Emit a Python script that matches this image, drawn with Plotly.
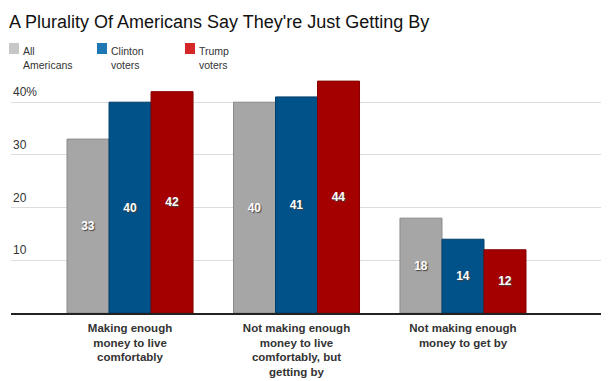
import plotly.graph_objects as go

categories = ["Making enough<br>money to live<br>comfortably",
              "Not making enough<br>money to live<br>comfortably, but<br>getting by",
              "Not making enough<br>money to get by"]
series_names = ["All<br>Americans", "Clinton<br>voters", "Trump<br>voters"]
all_americans = [33, 40, 18]
clinton_voters = [40, 41, 14]
trump_voters = [42, 44, 12]
y_ticks = [10, 20, 30, 40]
y_tick_labels = ["10", "20", "30", "40%"]

bar_colors = ["#a6a6a6", "#02528a", "#a50000"]
bar_lines = ["#8a8a8a", "#003e6b", "#850000"]
legend_colors = ["#c7c7c7", "#1f77b4", "#d62728"]

# page body has an 8px margin; work in window pixels and convert
O = 8
WW, WH = 616, 381
W, H = WW - O, WH - O
PL, PR, PT, PB = 11, 601, 78, 313   # plot area in window pixels
L, R, T, B = PL - O, WW - PR, PT - O, WH - PB
PW, PH = PR - PL, PB - PT

def px_x(p):
    return (p - PL) / PW

def px_y(p):
    return (PB - p) / PH

x_idx = list(range(len(categories)))
fig = go.Figure()
for name, vals, c, lc in zip(series_names, [all_americans, clinton_voters, trump_voters], bar_colors, bar_lines):
    fig.add_trace(go.Bar(
        x=x_idx, y=vals, name=name.replace("<br>", " "),
        marker=dict(color=c, line=dict(color=lc, width=1)),
        text=[str(v) for v in vals], textposition="inside", insidetextanchor="middle",
        textangle=0, constraintext="none",
        textfont=dict(color="white", size=12, family="Liberation Sans", weight="bold",
                      shadow="1px 1px 1px #444"),
        hoverinfo="skip", showlegend=False,
    ))

annotations = []
for v, t in zip(y_ticks, y_tick_labels):
    annotations.append(dict(x=0, xref="paper", y=v, yref="y", text=t, showarrow=False,
                            xanchor="left", yanchor="bottom", yshift=1, xshift=0,
                            font=dict(size=12, color="#333", family="Liberation Sans")))

shapes = []
leg_sq_x = [9, 97, 185]
leg_txt_x = [21, 109, 197]
for sx, tx, c, n in zip(leg_sq_x, leg_txt_x, legend_colors, series_names):
    shapes.append(dict(type="rect", xref="paper", yref="paper",
                       x0=px_x(sx), x1=px_x(sx + 10), y0=px_y(54), y1=px_y(43),
                       fillcolor=c, line=dict(width=0)))
    annotations.append(dict(x=px_x(tx), xref="paper", y=px_y(42.5), yref="paper", text=n,
                            showarrow=False, xanchor="left", yanchor="top", align="left",
                            font=dict(size=10.5, color="#333", family="Liberation Sans")))

fig.update_layout(
    width=W, height=H,
    margin=dict(l=L, r=R, t=T, b=B, autoexpand=False),
    paper_bgcolor="white", plot_bgcolor="white",
    barmode="group", bargap=0.243, bargroupgap=0,
    title=dict(text="A Plurality Of Americans Say They're Just Getting By",
               x=(9 - O) / W, xanchor="left", xref="container",
               y=1 - (22 - O) / H, yanchor="middle", yref="container",
               font=dict(size=18, color="#111", family="Liberation Sans")),
    xaxis=dict(range=[-0.715, 2.829], tickvals=x_idx, ticktext=categories,
               showline=True, linecolor="#222", linewidth=1.5, ticks="",
               showgrid=False, zeroline=False, automargin=False,
               ticklabelstandoff=3,
               tickfont=dict(size=11.5, color="#333", family="Liberation Sans", weight="bold"),
               fixedrange=True),
    yaxis=dict(range=[0, PH / 5.27], tickvals=y_ticks, showticklabels=False,
               showgrid=True, gridcolor="#dddddd", gridwidth=1, zeroline=False,
               automargin=False, fixedrange=True),
    annotations=annotations, shapes=shapes,
    showlegend=False,
)
fig.write_html("out.html")
